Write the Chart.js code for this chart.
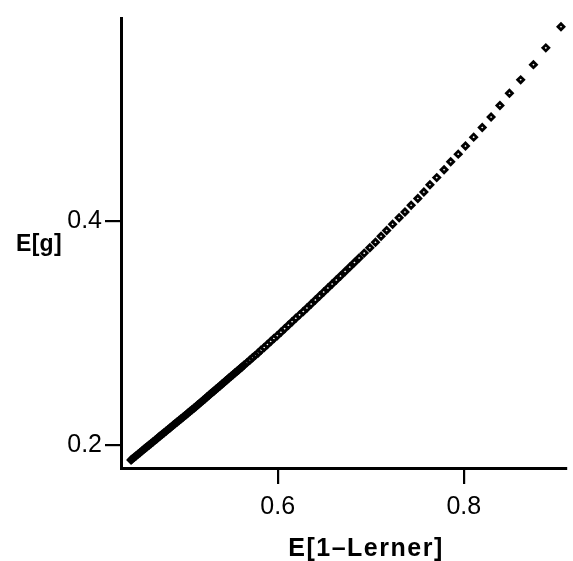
<!DOCTYPE html>
<html>
<head>
<meta charset="utf-8">
<script src="https://cdn.jsdelivr.net/npm/chart.js@4.4.0/dist/chart.umd.min.js"></script>
<style>
  html, body { margin: 0; padding: 0; background: #fff; }
  #wrap { width: 573px; height: 561px; position: relative; }
</style>
</head>
<body>
<div id="wrap"><canvas id="chart"></canvas></div>
<script>
// expected (1 - Lerner index) vs expected g
const lernerVals = [
  0.4425, 0.444, 0.446, 0.448, 0.450, 0.452, 0.454, 0.456, 0.458, 0.460,
  0.462, 0.464, 0.466, 0.468, 0.470, 0.472, 0.474, 0.476, 0.478, 0.480,
  0.482, 0.484, 0.486, 0.488, 0.490, 0.492, 0.494, 0.496, 0.498, 0.500,
  0.502, 0.504, 0.506, 0.508, 0.510, 0.512, 0.514, 0.516, 0.518, 0.520,
  0.522, 0.524, 0.526, 0.528, 0.530, 0.532, 0.534, 0.536, 0.538, 0.540,
  0.542, 0.544, 0.546, 0.548, 0.550, 0.552, 0.554, 0.556, 0.558, 0.560,
  0.562, 0.564,
  0.567, 0.570, 0.573, 0.576, 0.579, 0.582,
  0.5855, 0.589, 0.5925, 0.596, 0.5995,
  0.6035, 0.6075, 0.6115, 0.6155, 0.6195, 0.6235, 0.6275, 0.6315,
  0.636, 0.6405, 0.645, 0.6495, 0.654, 0.6585, 0.663,
  0.6675, 0.6725, 0.6775, 0.6825, 0.6875, 0.693, 0.699,
  0.7051, 0.7111, 0.7171, 0.7235, 0.7305, 0.7368, 0.7434, 0.7506, 0.7571, 0.7636,
  0.7709, 0.7788, 0.7859, 0.7940, 0.8018, 0.8106, 0.8198, 0.8293, 0.8388, 0.8490,
  0.8611, 0.8748, 0.8881, 0.9044
];
const gVals = [
  0.1869, 0.1880, 0.1893, 0.1907, 0.1921, 0.1934, 0.1948, 0.1962, 0.1975, 0.1989,
  0.2003, 0.2016, 0.2030, 0.2044, 0.2057, 0.2071, 0.2085, 0.2099, 0.2112, 0.2126,
  0.2140, 0.2153, 0.2167, 0.2181, 0.2194, 0.2208, 0.2222, 0.2235, 0.2249, 0.2263,
  0.2276, 0.2290, 0.2304, 0.2317, 0.2331, 0.2345, 0.2360, 0.2374, 0.2388, 0.2403,
  0.2417, 0.2431, 0.2445, 0.2460, 0.2474, 0.2488, 0.2503, 0.2517, 0.2531, 0.2546,
  0.2560, 0.2574, 0.2588, 0.2603, 0.2617, 0.2631, 0.2646, 0.2660, 0.2674, 0.2689,
  0.2703, 0.2717,
  0.2739, 0.2760, 0.2782, 0.2804, 0.2826, 0.2849,
  0.2875, 0.2901, 0.2928, 0.2954, 0.2980,
  0.3011, 0.3042, 0.3073, 0.3104, 0.3135, 0.3166, 0.3197, 0.3228,
  0.3263, 0.3298, 0.3334, 0.3370, 0.3406, 0.3442, 0.3478,
  0.3514, 0.3554, 0.3594, 0.3634, 0.3674, 0.3718, 0.3766,
  0.3815, 0.3868, 0.3921, 0.3976, 0.4035, 0.4086, 0.4146, 0.4206, 0.4265, 0.4329,
  0.4393, 0.4463, 0.4534, 0.4603, 0.4676, 0.4755, 0.4841, 0.4935, 0.5037, 0.5147,
  0.5267, 0.5403, 0.5553, 0.5741
];
const xTicks = [0.6, 0.8];
const yTicks = [0.2, 0.4];
const xTitle = 'E[1\u2013Lerner]';
const yTitle = 'E[g]';

const FONT = '"Liberation Sans", Arial, Helvetica, sans-serif';

// axis titles drawn straight on the canvas (y title is horizontal)
const titles = {
  id: 'titles',
  afterDraw(chart) {
    const ctx = chart.ctx;
    ctx.save();
    ctx.fillStyle = '#000';
    ctx.font = 'bold 25px ' + FONT;
    ctx.textBaseline = 'alphabetic';
    ctx.letterSpacing = '1.5px';
    ctx.textAlign = 'center';
    ctx.fillText(xTitle, 366, 556);
    ctx.letterSpacing = '0.3px';
    ctx.font = 'bold 23px ' + FONT;
    ctx.textAlign = 'left';
    ctx.fillText(yTitle, 16, 251);
    ctx.restore();
  }
};

new Chart(document.getElementById('chart'), {
  type: 'scatter',
  data: {
    datasets: [{
      data: lernerVals.map((x, i) => ({ x: x, y: gVals[i] })),
      pointStyle: 'rectRot',
      pointRadius: 3.0,
      pointBorderWidth: 2.8,
      pointBorderColor: '#000',
      pointBackgroundColor: 'rgba(0,0,0,0)',
      showLine: false,
      clip: false
    }]
  },
  options: {
    responsive: true,
    maintainAspectRatio: false,
    animation: false,
    layout: { padding: { top: 12, right: 0, left: 0, bottom: 0 } },
    plugins: {
      legend: { display: false },
      tooltip: { enabled: false }
    },
    scales: {
      x: {
        type: 'linear',
        min: 0.4317,
        max: 0.91,
        afterFit: (s) => { s.height = 93; },
        afterBuildTicks: (s) => { s.ticks = xTicks.map(v => ({ value: v })); },
        border: { display: true, color: '#000', width: 3 },
        grid: { drawOnChartArea: false, drawTicks: true, tickLength: 16, color: '#000', lineWidth: 2.2 },
        ticks: { color: '#000', padding: 8, font: { family: FONT, size: 25 }, maxRotation: 0 }
      },
      y: {
        type: 'linear',
        min: 0.1797,
        max: 0.582,
        afterFit: (s) => { s.width = 121; },
        afterBuildTicks: (s) => { s.ticks = yTicks.map(v => ({ value: v })); },
        border: { display: true, color: '#000', width: 3 },
        grid: { drawOnChartArea: false, drawTicks: true, tickLength: 16, color: '#000', lineWidth: 2.2 },
        ticks: { color: '#000', padding: 3, font: { family: FONT, size: 25 } }
      }
    }
  },
  plugins: [titles]
});
</script>
</body>
</html>
